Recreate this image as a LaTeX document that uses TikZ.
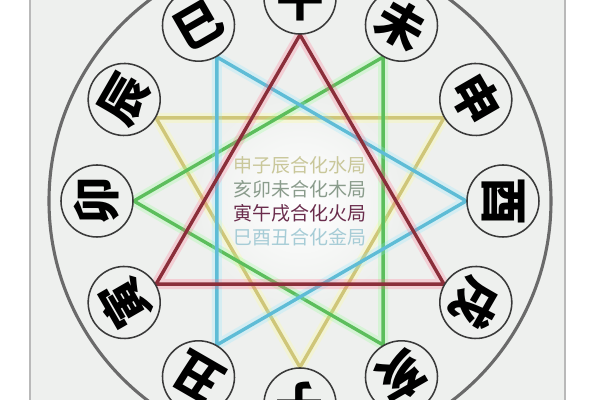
\documentclass[tikz,border=0pt]{standalone}
\usepackage{fontspec}
\newfontfamily\cjk{Noto Sans CJK SC}
\usepackage{tikz}
\usetikzlibrary{backgrounds}

\definecolor{panel}{HTML}{EEF0EE}
\definecolor{rimgray}{HTML}{6A6A6A}
\definecolor{ringgray}{HTML}{3A3A3A}
\definecolor{firered}{HTML}{8B2E3A}
\definecolor{firehalo}{HTML}{FF6A8A}
\definecolor{metalcyan}{HTML}{5EBCD6}
\definecolor{metalhalo}{HTML}{8AE6FF}
\definecolor{woodgreen}{HTML}{5CBE5C}
\definecolor{woodhalo}{HTML}{8CFF8C}
\definecolor{wateryellow}{HTML}{CFC679}
\definecolor{waterhalo}{HTML}{FFFF8A}

\begin{document}
\begin{tikzpicture}[
		branch/.style={circle, draw=ringgray, line width=1.1pt, fill=panel, minimum size=1.8cm, inner sep=0pt, font=\cjk\bfseries\fontsize{34}{34}\selectfont},
		core/.style={line width=2.4pt, line join=round},
		halo/.style={line width=7pt, opacity=0.25, line join=round},
		motto/.style={align=center, font=\cjk\fontsize{13.5}{17}\selectfont}
	]
		\useasboundingbox (-7.5,-4.975) rectangle (7.5,5.025);
		\clip (-7.5,-4.975) rectangle (7.5,5.025);

		% twelve branches, top of each glyph facing outwards
		\node[branch, rotate=0]    (wu)   at (90:5.075)   {午};
		\node[branch, rotate=-30]  (wei)  at (60:5.075)   {未};
		\node[branch, rotate=-60]  (shen) at (30:5.075)   {申};
		\node[branch, rotate=-90]  (you)  at (0:5.075)    {酉};
		\node[branch, rotate=-120] (xu)   at (-30:5.075)  {戌};
		\node[branch, rotate=-150] (hai)  at (-60:5.075)  {亥};
		\node[branch, rotate=180]  (zi)   at (-90:5.075)  {子};
		\node[branch, rotate=150]  (chou) at (-120:5.075) {丑};
		\node[branch, rotate=120]  (yin)  at (-150:5.075) {寅};
		\node[branch, rotate=90]   (mao)  at (180:5.075)  {卯};
		\node[branch, rotate=60]   (chen) at (150:5.075)  {辰};
		\node[branch, rotate=30]   (si)   at (120:5.075)  {巳};

		\node[motto] (ju) at (0,0) {%
			\textcolor[HTML]{C9C79A}{申子辰合化水局}\\
			\textcolor[HTML]{8A9C8C}{亥卯未合化木局}\\
			\textcolor[HTML]{6A2C4C}{寅午戌合化火局}\\
			\textcolor[HTML]{A6CCD6}{巳酉丑合化金局}};

		\begin{pgfonlayer}{background}
			\fill[white] (-7.5,-4.975) rectangle (7.5,5.025);
			\fill[panel] (-6.75,-4.975) rectangle (6.625,5.025);
			\draw[gray!55, line width=1.4pt] (-6.75,-4.975) -- (-6.75,5.025);
			\draw[gray!55, line width=1.4pt] (6.625,-4.975) -- (6.625,5.025);
			\shade[inner color=white, outer color=panel] (0,0) circle (2.6cm);
			\draw[rimgray, line width=2.2pt] (0,0) circle (6.275cm);

			% the four triangles
			\draw[halo, waterhalo] (chen.south) -- (shen.south) -- (zi.south) -- cycle;
			\draw[core, wateryellow] (chen.south) -- (shen.south) -- (zi.south) -- cycle;
			\draw[halo, woodhalo] (mao.south) -- (wei.south) -- (hai.south) -- cycle;
			\draw[core, woodgreen] (mao.south) -- (wei.south) -- (hai.south) -- cycle;
			\draw[halo, metalhalo] (si.south) -- (you.south) -- (chou.south) -- cycle;
			\draw[core, metalcyan] (si.south) -- (you.south) -- (chou.south) -- cycle;
			\draw[halo, firehalo] (yin.south) -- (wu.south) -- (xu.south) -- cycle;
			\draw[core, firered] (yin.south) -- (wu.south) -- (xu.south) -- cycle;
		\end{pgfonlayer}
	\end{tikzpicture}
\end{document}
